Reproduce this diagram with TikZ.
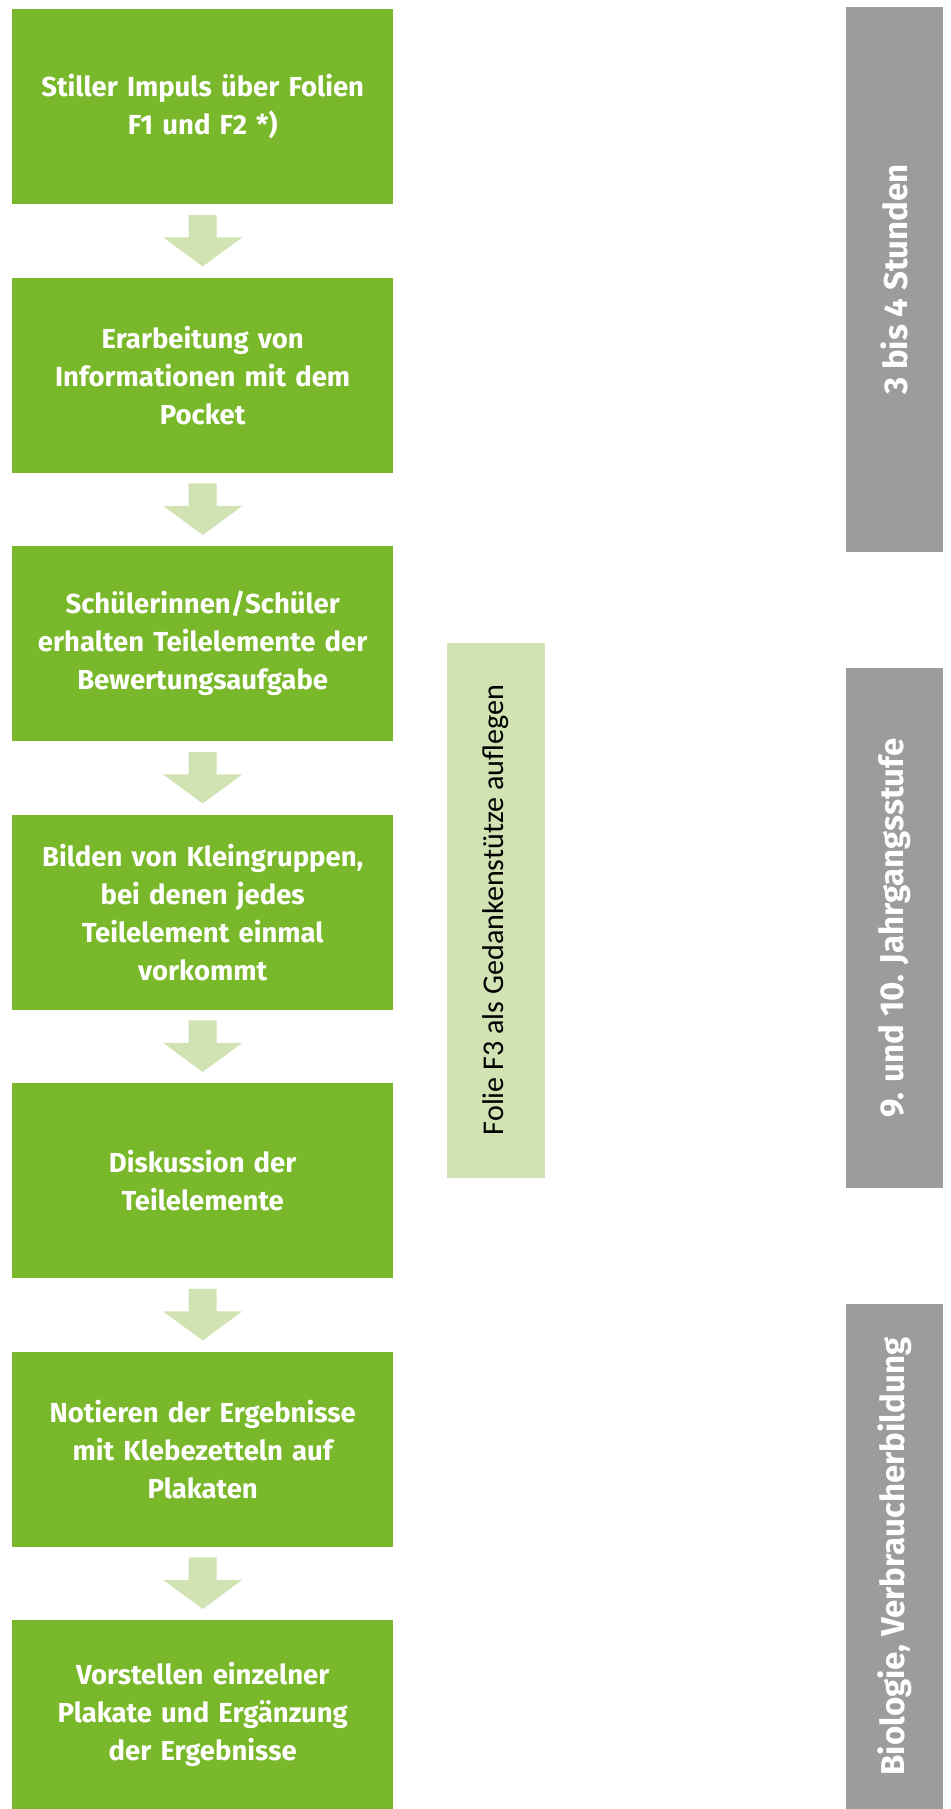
\documentclass[tikz,border=0pt]{standalone}
\usepackage{fontspec}
\setmainfont{Fira Sans}
\newfontfamily\calib{Carlito}
\usetikzlibrary{calc}
\definecolor{boxgreen}{HTML}{79B82A}
\definecolor{lightgreen}{HTML}{D1E2B3}
\definecolor{boxgray}{HTML}{9B9C9B}
\begin{document}
\begin{tikzpicture}[x=1pt,y=-1pt,
  stepbox/.style={fill=boxgreen, text=white, font=\bfseries\fontsize{27.5}{38}\selectfont,
    align=center, minimum width=381pt, minimum height=195pt, inner sep=0pt,
    anchor=north west, text width=360pt},
  flowarrow/.style={fill=lightgreen, draw=none},
  sidebox/.style={fill=boxgray, text=white, font=\bfseries\fontsize{33}{38}\selectfont,
    rotate=90, minimum height=97pt, inner sep=0pt, anchor=center},
  notebox/.style={fill=lightgreen, text=black, font=\calib\fontsize{30.1}{34}\selectfont,
    rotate=90, minimum height=98pt, minimum width=535pt, inner sep=0pt, anchor=center}
]
\useasboundingbox (0,0) rectangle (950,1809);

\node[stepbox] (b1) at (12,9) {Stiller Impuls über Folien\\F1 und F2 *)};
\node[stepbox] (b2) at (12,277.5) {Erarbeitung von\\Informationen mit dem\\Pocket};
\node[stepbox] (b3) at (12,546) {Schülerinnen/Schüler\\erhalten Teilelemente der\\Bewertungsaufgabe};
\node[stepbox] (b4) at (12,814.5) {Bilden von Kleingruppen,\\bei denen jedes\\Teilelement einmal\\vorkommt};
\node[stepbox] (b5) at (12,1083) {Diskussion der\\Teilelemente};
\node[stepbox] (b6) at (12,1351.5) {Notieren der Ergebnisse\\mit Klebezetteln auf\\Plakaten};
\node[stepbox, minimum height=189pt] (b7) at (12,1620) {Vorstellen einzelner\\Plakate und Ergänzung\\der Ergebnisse};

\foreach \a/\b in {b1/b2,b2/b3,b3/b4,b4/b5,b5/b6,b6/b7}{
  \fill[flowarrow] ($(\a.south)+(-14,10.5)$) -- ($(\a.south)+(14,10.5)$)
    -- ($(\a.south)+(14,33)$) -- ($(\a.south)+(39.5,33)$)
    -- ($(\b.north)+(0,-11)$)
    -- ($(\a.south)+(-39.5,33)$) -- ($(\a.south)+(-14,33)$) -- cycle;
}

\node[notebox] (note) at (496,910) {Folie F3 als Gedankenstütze auflegen};

\node[sidebox, minimum width=545pt] (g1) at (894.5,279.5) {3 bis 4 Stunden};
\node[sidebox, minimum width=520pt] (g2) at (894.5,928) {9. und 10. Jahrgangsstufe};
\node[sidebox, minimum width=505pt] (g3) at (894.5,1556.5) {Biologie, Verbraucherbildung};
\end{tikzpicture}
\end{document}
